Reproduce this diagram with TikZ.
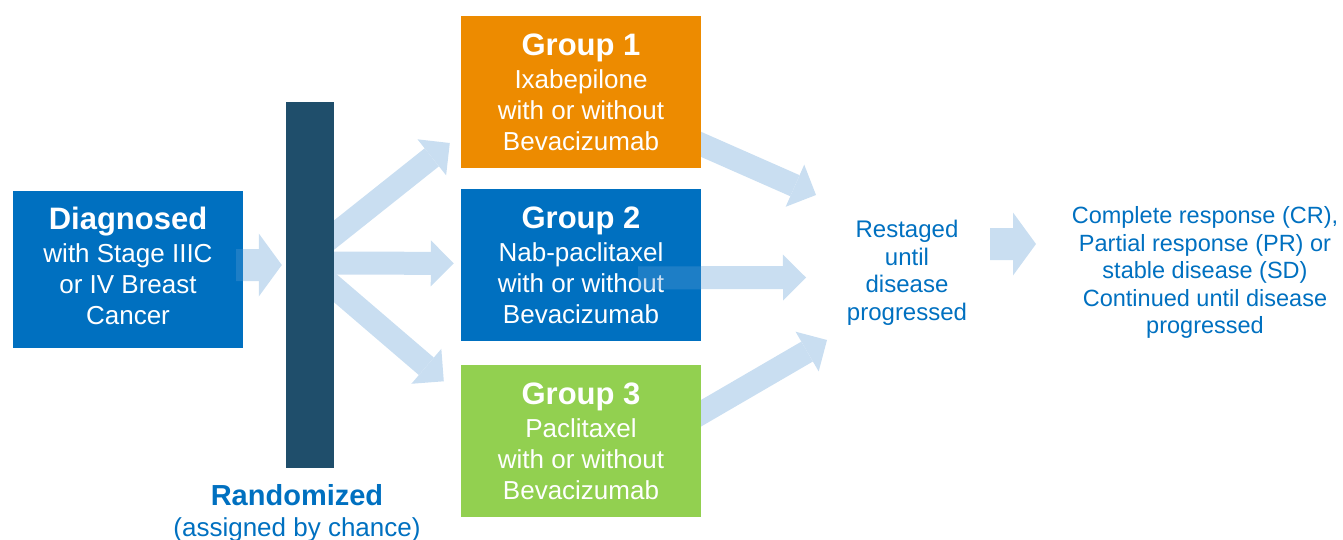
\documentclass[tikz,border=0pt]{standalone}
\usepackage{fontspec}
\setmainfont{Liberation Sans}
\usetikzlibrary{arrows.meta, positioning, calc}
\definecolor{myblue}{RGB}{0,112,192}
\definecolor{myorange}{RGB}{237,139,0}
\definecolor{mygreen}{RGB}{146,208,80}
\definecolor{mybar}{RGB}{31,78,107}
\definecolor{myarrow}{RGB}{91,155,213}
\pgfdeclarelayer{behind}
\pgfsetlayers{behind,main}
\tikzset{
  groupbox/.style={rectangle, text=white, align=center,
    minimum width=240pt, minimum height=152pt, inner sep=0pt,
    font=\fontsize{26}{31}\selectfont},
  barnode/.style={rectangle, fill=mybar,
    minimum width=48pt, minimum height=366pt, inner sep=0pt},
  bluetext/.style={text=myblue, align=center},
  arrowgroup/.style={transparency group, opacity=0.33},
  fatarrow/.style={draw=myarrow, line width=23pt,
    -{Triangle[length=23pt, width=46pt, line width=0pt, fill=myarrow]}},
  bigfatarrow/.style={draw=myarrow, line width=32pt,
    -{Triangle[length=23pt, width=63pt, line width=0pt, fill=myarrow]}}
}
\newcommand{\grouptitle}[1]{{\fontsize{31}{33}\selectfont\bfseries #1}\\[2pt]}

\begin{document}
\begin{tikzpicture}[x=1pt, y=-1pt]
  \useasboundingbox (0,0) rectangle (1343,540);

  % Diagnosis
  \node[groupbox, fill=myblue, minimum width=230pt, minimum height=157pt] (diag) at (128,269.5)
    {\grouptitle{Diagnosed}with Stage IIIC\\or IV Breast\\Cancer\rule[-8pt]{0pt}{8pt}};

  % Randomization bar
  \node[barnode] (bar) at (310,285) {};
  \node[bluetext, font=\fontsize{26}{31}\selectfont] (rand) at (297,513)
    {{\fontsize{29}{31}\selectfont\bfseries Randomized}\\(assigned by chance)};

  % Treatment groups
  \node[groupbox, fill=myorange] (g1) at (581,92)
    {\grouptitle{Group 1}Ixabepilone\\with or without\\Bevacizumab};
  \node[groupbox, fill=myblue, below=21pt of g1] (g2)
    {\grouptitle{Group 2}Nab-paclitaxel\\with or without\\Bevacizumab};
  \node[groupbox, fill=mygreen, below=23pt of g2] (g3)
    {\grouptitle{Group 3}Paclitaxel\\with or without\\Bevacizumab};

  % Outcomes
  \node[bluetext, font=\fontsize{24}{27.5}\selectfont] (restage) at (907,273)
    {Restaged\\until\\disease\\progressed};
  \node[bluetext, font=\fontsize{23.5}{27.5}\selectfont] (outcome) at (1205,272.5)
    {Complete response (CR),\\Partial response (PR) or\\stable disease (SD)\\Continued until disease\\progressed};

  % Arrows passing under the boxes
  \begin{pgfonlayer}{behind}
    \begin{scope}[arrowgroup]
      \draw[fatarrow] ($(bar.east)+(-12,-40.5)$) -- ($(g1.west)+(-11,51)$);
      \draw[fatarrow] ($(bar.east)+(-12,-22)$) -- ($(g2.west)+(-7,-2)$);
      \draw[fatarrow] ($(bar.east)+(-12,-8)$) -- ($(g3.west)+(-17,-59.5)$);
      \draw[fatarrow] ($(g1.east)+(-10,48)$) -- ($(restage)+(-91,-78)$);
      \draw[fatarrow] ($(g3.east)+(-8,-23)$) -- ($(restage)+(-80,67)$);
    \end{scope}
  \end{pgfonlayer}

  % Arrows drawn over the boxes
  \begin{scope}[arrowgroup]
    \draw[bigfatarrow] ($(diag.east)+(-7,-4.5)$) -- ($(bar.west)+(-4,-20)$);
    \draw[fatarrow] ($(g2.east)+(-63,12.5)$) -- ($(restage)+(-101,4.5)$);
    \draw[bigfatarrow] ($(restage)+(83,-29)$) -- ($(outcome)+(-169,-28.5)$);
  \end{scope}
\end{tikzpicture}
\end{document}
